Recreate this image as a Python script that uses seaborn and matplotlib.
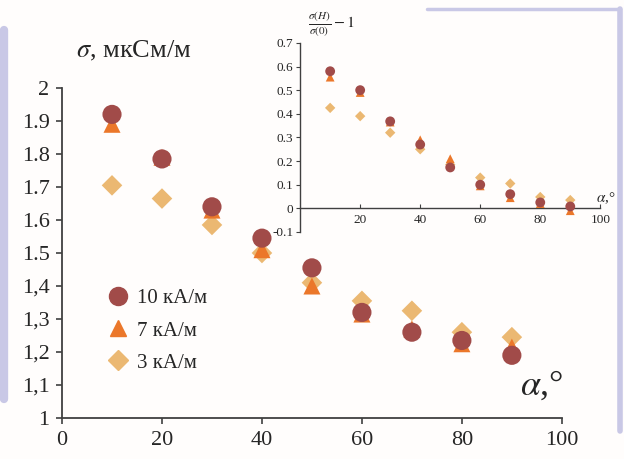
import numpy as np
import pandas as pd
import seaborn as sns
import matplotlib.pyplot as plt
from matplotlib.lines import Line2D

# data
angle = [10, 20, 30, 40, 50, 60, 70, 80, 90]
sigma_10 = [1.92, 1.785, 1.64, 1.545, 1.455, 1.32, 1.26, 1.235, 1.19]
sigma_7 = [1.89, 1.79, 1.63, 1.51, 1.40, 1.315, 1.27, 1.225, 1.215]
sigma_3 = [1.705, 1.665, 1.585, 1.50, 1.41, 1.355, 1.325, 1.26, 1.245]
rel_10 = [0.58, 0.50, 0.368, 0.27, 0.173, 0.10, 0.06, 0.025, 0.008]
rel_7 = [0.555, 0.49, 0.365, 0.29, 0.21, 0.095, 0.045, 0.02, -0.01]
rel_3 = [0.425, 0.39, 0.32, 0.25, 0.185, 0.13, 0.105, 0.048, 0.035]
series_names = ["10 кА/м", "7 кА/м", "3 кА/м"]
main_yticks = [1, 1.1, 1.2, 1.3, 1.4, 1.5, 1.6, 1.7, 1.8, 1.9, 2]
main_ylabels = ["1", "1,1", "1,2", "1,3", "1,4", "1.5", "1.6", "1.7", "1.8", "1.9", "2"]
main_xticks = [0, 20, 40, 60, 80, 100]
inset_yticks = [-0.1, 0, 0.1, 0.2, 0.3, 0.4, 0.5, 0.6, 0.7]
inset_xticks = [20, 40, 60, 80, 100]

colors = {"10 кА/м": "#a14b49", "7 кА/м": "#eb772a", "3 кА/м": "#ebb872"}
markers = {"10 кА/м": "o", "7 кА/м": "^", "3 кА/м": "D"}
main_sizes = {"10 кА/м": 190, "7 кА/м": 150, "3 кА/м": 110}
inset_sizes = {"10 кА/м": 50, "7 кА/м": 40, "3 кА/м": 28}

df = pd.DataFrame({
    "angle": angle * 3,
    "sigma": sigma_10 + sigma_7 + sigma_3,
    "rel": rel_10 + rel_7 + rel_3,
    "field": [n for n in series_names for _ in angle],
})

sns.set_style("ticks")
plt.rcParams["font.family"] = ["Liberation Serif", "DejaVu Serif"]
plt.rcParams["mathtext.fontset"] = "stix"

bg = "#fffdfc"
fig = plt.figure(figsize=(6.24, 4.59), dpi=100, facecolor=bg)

# lavender frame pieces
frame = "#c9c8e6"
fig.add_artist(Line2D([0.006, 0.006], [0.13, 0.935], color=frame, lw=6, transform=fig.transFigure))
fig.add_artist(Line2D([0.685, 0.993], [0.981, 0.981], color=frame, lw=2.5, transform=fig.transFigure))
fig.add_artist(Line2D([0.993, 0.993], [0.06, 0.981], color=frame, lw=4, transform=fig.transFigure))

ax = fig.add_axes([0.0994, 0.0893, 0.801, 0.719])
ax.set_facecolor(bg)
for name in reversed(series_names):
    sns.scatterplot(data=df[df.field == name], x="angle", y="sigma", ax=ax,
                    color=colors[name], marker=markers[name], s=main_sizes[name],
                    edgecolor="none", legend=False, zorder=3)
ax.set_xlim(0, 100)
ax.set_ylim(1, 2)
ax.set_xticks(main_xticks)
ax.set_yticks(main_yticks)
ax.set_yticklabels(main_ylabels)
ax.tick_params(labelsize=16, length=4, width=1.2, color="#404040", pad=5)
for s in ["top", "right"]:
    ax.spines[s].set_visible(False)
for s in ["left", "bottom"]:
    ax.spines[s].set_color("#404040")
    ax.spines[s].set_linewidth(1.3)
ax.set_xlabel("")
ax.set_ylabel("")
fig.text(0.215, 0.89, r"$\sigma$, мкСм/м", fontsize=19, ha="center", va="center")
fig.text(0.868, 0.16, r"$\alpha$,°", fontsize=26, ha="center", va="center")

handles = [Line2D([], [], ls="none", marker=markers[n], color=colors[n],
                  markersize={"o": 13, "^": 12, "D": 10}[markers[n]]) for n in series_names]
ax.legend(handles, series_names, loc="upper left", bbox_to_anchor=(0.05, 0.448),
          frameon=False, fontsize=15, handletextpad=0.3, labelspacing=0.6,
          handlelength=1.2)

# inset
ins = fig.add_axes([0.481, 0.4946, 0.481, 0.412])
ins.patch.set_alpha(0)
for name in reversed(series_names):
    sns.scatterplot(data=df[df.field == name], x="angle", y="rel", ax=ins,
                    color=colors[name], marker=markers[name], s=inset_sizes[name],
                    edgecolor="none", legend=False, zorder=3)
ins.set_xlim(0, 100)
ins.set_ylim(-0.1, 0.7)
ins.set_xticks(inset_xticks)
ins.set_yticks(inset_yticks)
ins.set_yticklabels([f"{v:g}" for v in inset_yticks])
ins.spines["bottom"].set_position(("data", 0))
for s in ["top", "right"]:
    ins.spines[s].set_visible(False)
for s in ["left", "bottom"]:
    ins.spines[s].set_color("#404040")
    ins.spines[s].set_linewidth(1.0)
ins.tick_params(axis="y", labelsize=9.5, length=3, color="#404040", pad=2)
ins.tick_params(axis="x", labelsize=9.5, length=3, direction="in", color="#404040", pad=4)
ins.set_xlabel("")
ins.set_ylabel("")
ins.text(98.5, 0.012, r"$\alpha$,°", fontsize=11, ha="left", va="bottom")
fig.text(0.493, 0.945, r"$\frac{\sigma(H)}{\sigma(0)}-1$", fontsize=11.5, ha="left", va="center")

fig.savefig("out.png", dpi=100, facecolor=bg)
